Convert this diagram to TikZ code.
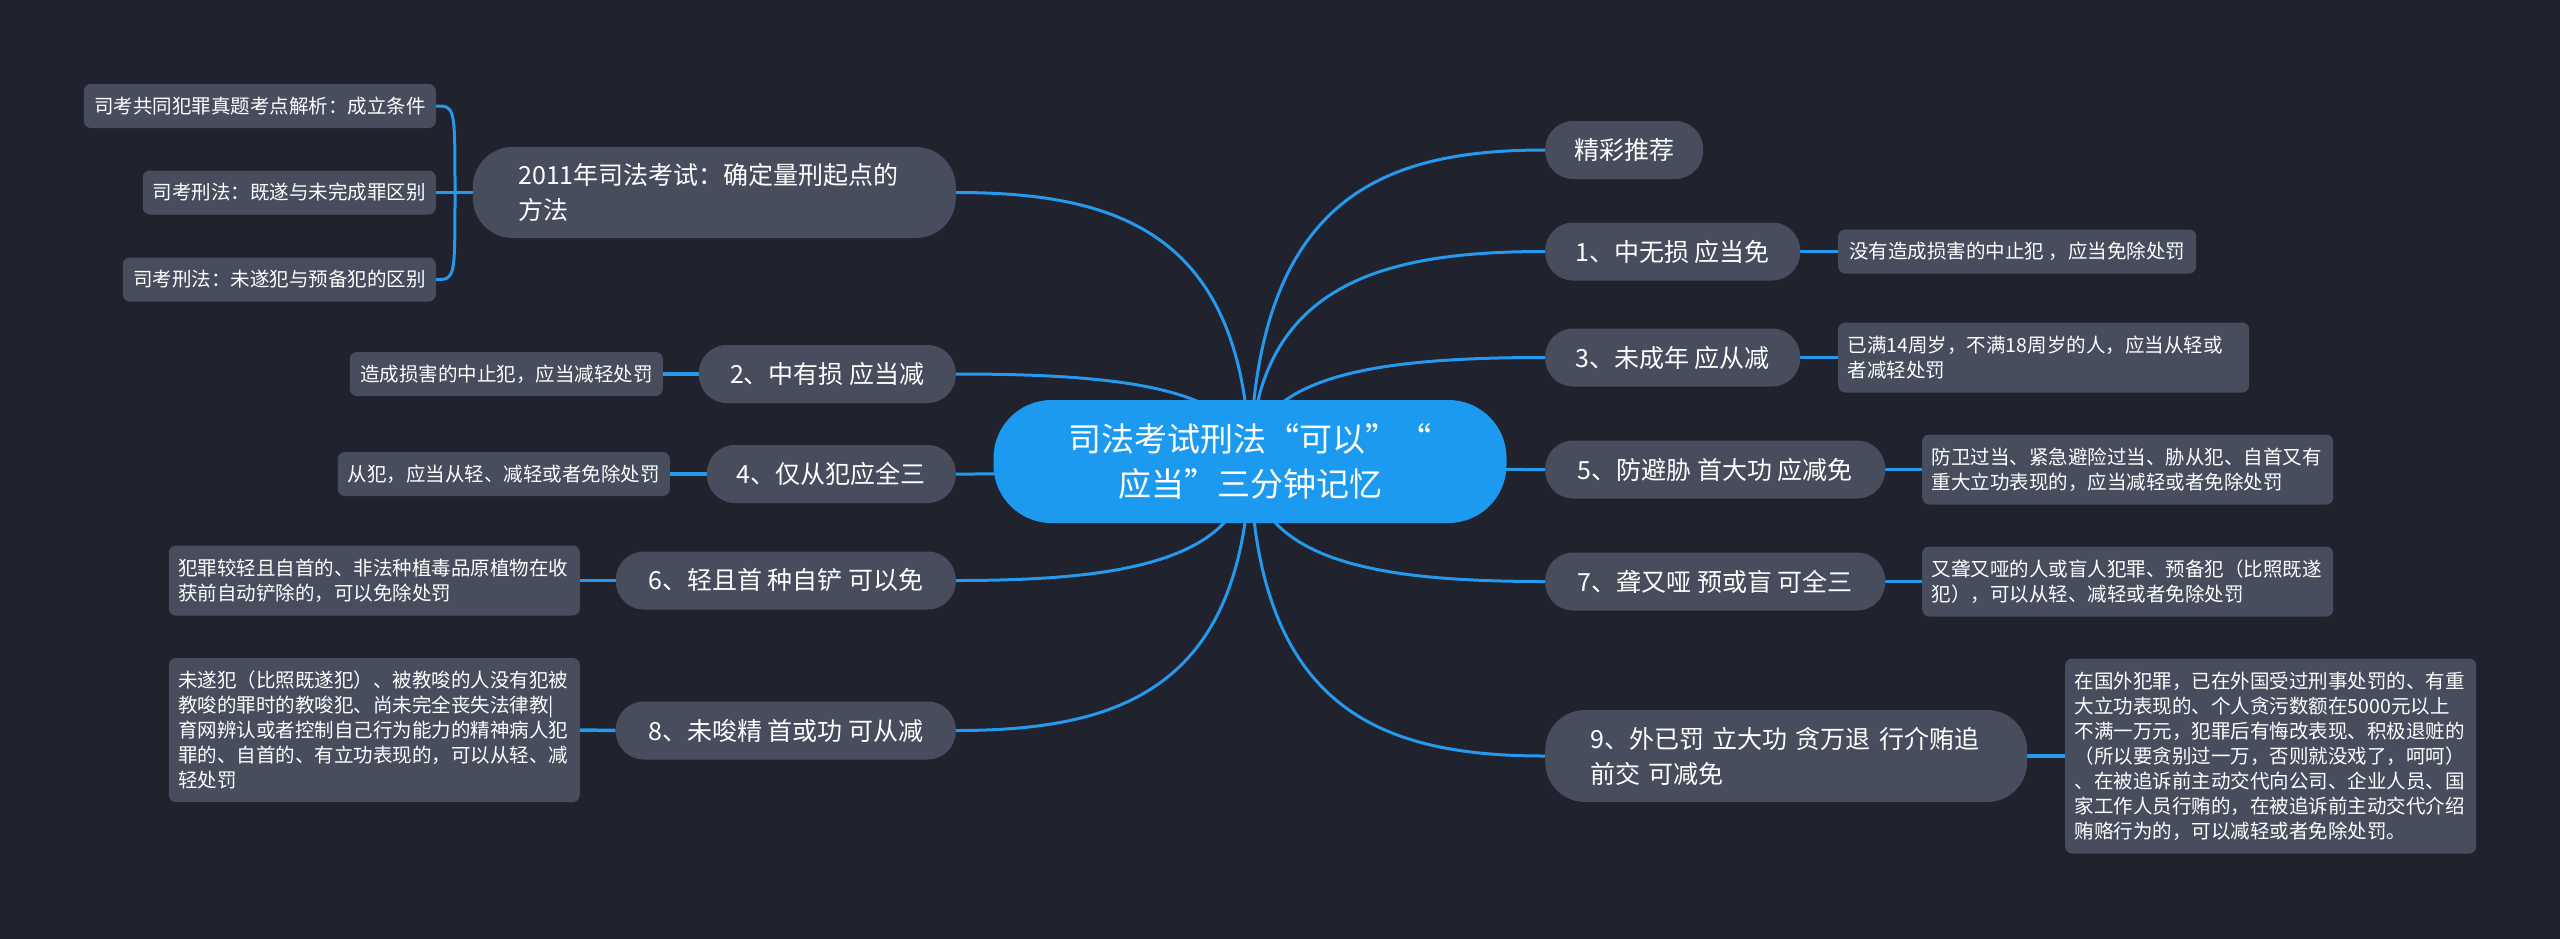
\documentclass[tikz,border=0pt]{standalone}
\usepackage{fontspec}
\setmainfont{Noto Sans CJK SC}
\definecolor{bgc}{HTML}{20232E}
\definecolor{nodec}{HTML}{474D5D}
\definecolor{centerc}{HTML}{1C9AF0}
\definecolor{linec}{HTML}{2599ED}
\pgfdeclarelayer{back}
\pgfsetlayers{back,main}
\begin{document}
\begin{tikzpicture}[x=1pt,y=-1pt,
  link/.style={draw=linec, line width=3pt},
  sublink/.style={draw=linec, line width=3.5pt},
  topic/.style={fill=nodec, text=white, rounded corners=28pt, inner sep=0pt, minimum height=58pt, font=\fontsize{25pt}{35pt}\selectfont},
  topictwo/.style={fill=nodec, text=white, rounded corners=40pt, inner sep=0pt, minimum height=91pt, minimum width=482pt, text width=392pt, align=left, font=\fontsize{25pt}{35pt}\selectfont},
  leaf/.style={fill=nodec, text=white, rounded corners=7pt, inner sep=0pt, minimum height=44pt, font=\fontsize{19.5pt}{25pt}\selectfont},
  leafwide/.style={leaf, minimum width=411pt, text width=392pt, align=left},
  root/.style={fill=centerc, text=white, rounded corners=58pt, inner sep=0pt, minimum width=513pt, minimum height=123pt, text width=420pt, align=center, font=\fontsize{33pt}{45pt}\selectfont}
]
\useasboundingbox (0,0) rectangle (2560,938);

% root
\node[root] (c) at (1250,461.5) {司法考试刑法“可以”“\\应当”三分钟记忆};

% right main topics
\node[topic, anchor=west, minimum width=158pt] (rec) at (1545,150) {精彩推荐};
\node[topic, anchor=west, minimum width=255pt] (m1) at (1545,251.5) {1、中无损 应当免};
\node[topic, anchor=west, minimum width=255pt] (m3) at (1545,357.5) {3、未成年 应从减};
\node[topic, anchor=west, minimum width=340pt] (m5) at (1545,469.5) {5、防避胁 首大功 应减免};
\node[topic, anchor=west, minimum width=340pt] (m7) at (1545,581.5) {7、聋又哑 预或盲 可全三};
\node[topictwo, anchor=west, minimum height=92pt] (m9) at (1545,756) {9、外已罚 立大功 贪万退 行介贿追\\前交 可减免};

% right leaves
\node[leaf, anchor=west, minimum width=358pt] (l1) at (1838,251.5) {没有造成损害的中止犯 ，应当免除处罚};
\node[leafwide, anchor=west, minimum height=70pt] (l3) at (1838,357.5) {已满14周岁，不满18周岁的人，应当从轻或\\者减轻处罚};
\node[leafwide, anchor=west, minimum height=70pt] (l5) at (1922,469.5) {防卫过当、紧急避险过当、胁从犯、自首又有\\重大立功表现的，应当减轻或者免除处罚};
\node[leafwide, anchor=west, minimum height=70pt] (l7) at (1922,581.5) {又聋又哑的人或盲人犯罪、预备犯（比照既遂\\犯），可以从轻、减轻或者免除处罚};
\node[leafwide, anchor=west, minimum height=195pt] (l9) at (2065,756) {在国外犯罪，已在外国受过刑事处罚的、有重\\大立功表现的、个人贪污数额在5000元以上\\不满一万元，犯罪后有悔改表现、积极退赃的\\（所以要贪别过一万，否则就没戏了，呵呵）\\、在被追诉前主动交代向公司、企业人员、国\\家工作人员行贿的，在被追诉前主动交代介绍\\贿赂行为的，可以减轻或者免除处罚。};

% left main topics
\node[topictwo, anchor=east, minimum width=483pt] (m2011) at (956,192.5) {2011年司法考试：确定量刑起点的\\方法};
\node[topic, anchor=east, minimum width=257pt] (m2) at (956,374) {2、中有损 应当减};
\node[topic, anchor=east, minimum width=249pt] (m4) at (956,474) {4、仅从犯应全三};
\node[topic, anchor=east, minimum width=340pt] (m6) at (956,580.5) {6、轻且首 种自铲 可以免};
\node[topic, anchor=east, minimum width=340pt] (m8) at (956,730.5) {8、未唆精 首或功 可从减};

% left leaves
\node[leaf, anchor=east, minimum width=352pt] (la) at (436,106) {司考共同犯罪真题考点解析：成立条件};
\node[leaf, anchor=east, minimum width=293pt] (lb) at (436,192.5) {司考刑法：既遂与未完成罪区别};
\node[leaf, anchor=east, minimum width=313pt] (lc) at (436,279.5) {司考刑法：未遂犯与预备犯的区别};
\node[leaf, anchor=east, minimum width=313pt] (l2) at (663,374) {造成损害的中止犯，应当减轻处罚};
\node[leaf, anchor=east, minimum width=332pt] (l4) at (670,474) {从犯，应当从轻、减轻或者免除处罚};
\node[leafwide, anchor=east, minimum height=70pt] (l6) at (580,580.5) {犯罪较轻且自首的、非法种植毒品原植物在收\\获前自动铲除的，可以免除处罚};
\node[leafwide, anchor=east, minimum height=144pt] (l8) at (580,730) {未遂犯（比照既遂犯）、被教唆的人没有犯被\\教唆的罪时的教唆犯、尚未完全丧失法律教|\\育网辨认或者控制自己行为能力的精神病人犯\\罪的、自首的、有立功表现的，可以从轻、减\\轻处罚};

\coordinate (J) at (455,192.5);

\begin{pgfonlayer}{back}
\fill[bgc] (-6,-6) rectangle (2566,944);
% root to right topics
\draw[link] (c.center) .. controls +(6,-265) and +(-162,0) .. (rec.west);
\draw[link] (c.center) .. controls +(6,-178.5) and +(-162,0) .. (m1.west);
\draw[link] (c.center) .. controls +(6,-88.4) and +(-162,0) .. (m3.west);
\draw[link] (c.center) .. controls +(6,6.8) and +(-162,0) .. (m5.west);
\draw[link] (c.center) .. controls +(6,102) and +(-162,0) .. (m7.west);
\draw[link] (c.center) .. controls +(6,250) and +(-162,0) .. (m9.west);
% root to left topics
\draw[link] (c.center) .. controls +(-6,-228.7) and +(162,0) .. (m2011.east);
\draw[link] (c.center) .. controls +(-6,-74.4) and +(162,0) .. (m2.east);
\draw[link] (c.center) .. controls +(-6,10.6) and +(162,0) .. (m4.east);
\draw[link] (c.center) .. controls +(-6,101) and +(162,0) .. (m6.east);
\draw[link] (c.center) .. controls +(-6,228.7) and +(162,0) .. (m8.east);
% topics to leaves
\draw[sublink] (m1.east) -- (l1.west);
\draw[sublink] (m3.east) -- (l3.west);
\draw[sublink] (m5.east) -- (l5.west);
\draw[sublink] (m7.east) -- (l7.west);
\draw[sublink] (m9.east) -- (l9.west);
\draw[sublink] (m2.west) -- (l2.east);
\draw[sublink] (m4.west) -- (l4.east);
\draw[sublink] (m6.west) -- (l6.east);
\draw[sublink] (m8.west) -- (l8.east);
\draw[sublink] (m2011.west) -- (lb.east);
\draw[link] (J) .. controls (J |- la.east) and (J |- la.east) .. (la.east);
\draw[link] (J) .. controls (J |- lc.east) and (J |- lc.east) .. (lc.east);
\end{pgfonlayer}
\end{tikzpicture}
\end{document}
